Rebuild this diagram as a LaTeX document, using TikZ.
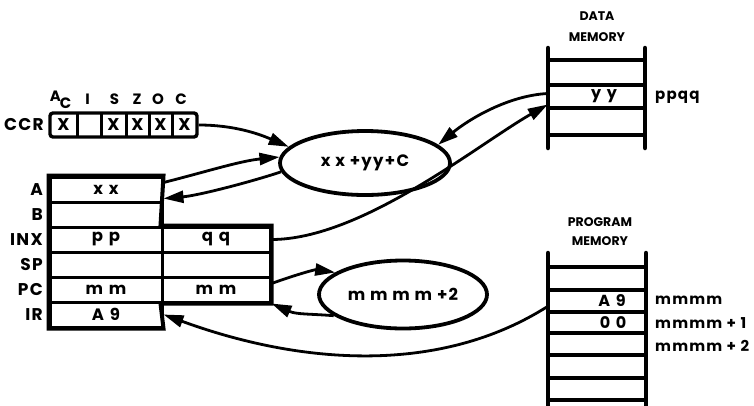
\documentclass[tikz,border=0pt]{standalone}
\usepackage{fontspec}
\setmainfont{Poppins}
\newfontfamily\wf{Poppins}[LetterSpace=8]
\newfontfamily\wg{Poppins}[LetterSpace=14]
\usetikzlibrary{shapes.geometric,arrows.meta}
\begin{document}
\begin{tikzpicture}[x=1pt,y=-1pt,
  every node/.style={font=\bfseries},
  cell/.style={draw, line width=3pt, minimum height=25pt, inner sep=0pt,
    font=\wg\bfseries\fontsize{16.5}{16.5}\selectfont},
  lcell/.style={cell, minimum width=112pt},
  rcell/.style={cell, minimum width=108pt},
  reglabel/.style={anchor=east, inner sep=0pt, font=\wf\bfseries\fontsize{17}{17}\selectfont},
  flagcell/.style={minimum height=24pt, inner sep=0pt, font=\bfseries\fontsize{17}{17}\selectfont},
  flagletter/.style={inner sep=0pt, font=\bfseries\fontsize{15}{15}\selectfont},
  oval/.style={ellipse, draw, line width=3.8pt, inner sep=0pt,
    font=\wf\bfseries\fontsize{16.5}{16.5}\selectfont},
  conn/.style={line width=2.8pt, -{Triangle[length=20pt,width=12pt]}},
  post/.style={line width=4.5pt, line cap=round},
  rung/.style={line width=3.4pt},
  memrow/.style={minimum width=97pt, minimum height=22pt, inner sep=0pt},
  memtext/.style={inner sep=0pt, font=\wg\bfseries\fontsize{16}{16}\selectfont},
  memtag/.style={anchor=west, inner sep=0pt, font=\wf\bfseries\fontsize{15}{15}\selectfont},
  head/.style={inner sep=0pt, font=\bfseries\fontsize{12.5}{12.5}\selectfont}
]
\useasboundingbox (0,0) rectangle (754,405);

% ---------- CCR ----------
\node[reglabel] (ccrlabel) at (44,125) {CCR};
\node[flagcell, minimum width=27pt] (f1) at (63.5,125) {X};
\node[flagcell, minimum width=24pt] (f2) at (89,125) {};
\node[flagcell, minimum width=25pt] (f3) at (113.5,125) {X};
\node[flagcell, minimum width=23pt] (f4) at (137.5,125) {X};
\node[flagcell, minimum width=23pt] (f5) at (160.5,125) {X};
\node[flagcell, minimum width=25pt] (f6) at (184.5,125) {X};
\node[draw, line width=3.4pt, rounded corners=3pt, minimum width=147pt,
      minimum height=24pt, inner sep=0pt] (ccr) at (123.5,125) {};
\foreach \c in {f1,f2,f3,f4,f5}
  \draw[line width=3pt] (\c.north east) -- (\c.south east);
\node[flagletter] (lA) at (55.5,96) {A};
\node[flagletter] (lH) at (65.5,103) {C};
\node[flagletter] (lI) at (87.5,99) {I};
\node[flagletter] (lS) at (114.5,99) {S};
\node[flagletter] (lZ) at (137,99) {Z};
\node[flagletter] (lO) at (158,99) {O};
\node[flagletter] (lC) at (181,99) {C};

% ---------- registers ----------
\node[reglabel] (nA)   at (43,189.5) {A};
\node[reglabel] (nB)   at (43,214.5) {B};
\node[reglabel] (nINX) at (43,239.5) {INX};
\node[reglabel] (nSP)  at (43,264.5) {SP};
\node[reglabel] (nPC)  at (43,289.5) {PC};
\node[reglabel] (nIR)  at (43,314.5) {IR};

\node[lcell] (rA)   at (106,189.5) {x x};
\node[lcell] (rB)   at (106,214.5) {};
\node[lcell] (rINX) at (106,239.5) {p p};
\node[lcell] (rSP)  at (106,264.5) {};
\node[lcell] (rPC)  at (106,289.5) {m m};
\node[lcell] (rIR)  at (106,314.5) {A 9};
\node[rcell] (rINXb) at (216,239.5) {q q};
\node[rcell] (rSPb)  at (216,264.5) {};
\node[rcell] (rPCb)  at (216,289.5) {m m};
\draw[line width=4pt]
  (rA.north west) -- (rA.north east) -- (rINXb.north west) -- (rINXb.north east)
  -- (rPCb.south east) -- (rPCb.south west) -- (rIR.south east)
  -- (rIR.south west) -- cycle;

% ---------- ovals ----------
\node[oval, minimum width=170pt, minimum height=64pt] (alu) at (365,163) {x x +yy+C};
\node[oval, minimum width=168pt, minimum height=68pt] (inc) at (403,294.5) {m m m m +2};

% ---------- data memory ----------
\node[head] (dh1) at (597,16) {DATA};
\node[head] (dh2) at (597,37) {MEMORY};
\node[memrow] (d1)  at (596.5,72.5) {};
\node[memrow] (dyy) at (596.5,96.5) {};
\node[memrow] (d3)  at (596.5,121.5) {};
\node[memtext] (dyyt) at (604,96.5) {y y};
\draw[post] (548,48) -- (548,148);
\draw[post] (645,48) -- (645,148);
\foreach \y in {60,85,108,135} \draw[rung] (548,\y) -- (645,\y);
\node[memtag] (ppqq) at (655,97) {ppqq};

% ---------- program memory ----------
\node[head] (ph1) at (600,222) {PROGRAM};
\node[head] (ph2) at (600,241) {MEMORY};
\node[memrow] (p1)  at (597,278.5) {};
\node[memrow] (pA9) at (597,301) {};
\node[memrow] (p00) at (597,322.5) {};
\node[memtext] (pA9t) at (612,301) {A 9};
\node[memtext] (p00t) at (613,322.5) {0 0};
\draw[post] (548,253) -- (548,412);
\draw[post] (646,253) -- (646,412);
\foreach \y in {267,290,312,333,355,378,400} \draw[rung] (548,\y) -- (646,\y);
\node[memtag] (m0) at (655,300) {mmmm};
\node[memtag] (m1) at (655,323) {mmmm + 1};
\node[memtag] (m2) at (655,346) {mmmm + 2};

% ---------- connectors ----------
\draw[conn] (ccr.east) .. controls +(35,0) and +(-30,-13) .. (alu.168);
\draw[conn] ([yshift=7pt]rA.east) .. controls +(40,-10) and +(-40,4) .. (alu.176);
\draw[conn] (alu.186) .. controls +(-30,10) and +(35,-3) .. ([yshift=-9pt]rA.east);
\draw[conn] ([yshift=3pt]dyy.west) .. controls +(-40,2) and +(30,-25) .. (alu.14);
\draw[conn] (rINXb.east) .. controls +(90,0) and +(-70,40) .. ([yshift=-8pt]dyy.west);
\draw[conn] ([yshift=6pt]rPCb.east) .. controls +(25,-9) and +(-20,-3) .. (inc.162);
\draw[conn] (inc.197) .. controls +(-25,-2) and +(25,11) .. (rPCb.south east);
\draw[conn] ([yshift=-5pt]pA9.west) .. controls +(-108,69) and +(138,50.5) .. (rIR.east);
\end{tikzpicture}
\end{document}
